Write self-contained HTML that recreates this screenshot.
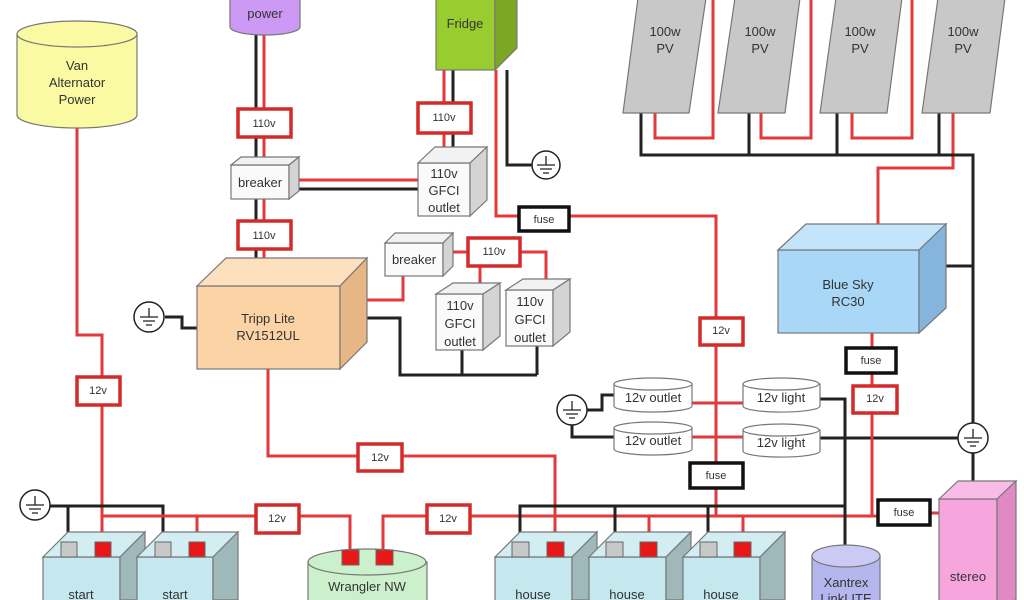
<!DOCTYPE html>
<html><head><meta charset="utf-8"><style>
html,body{margin:0;padding:0;background:#fff;width:1024px;height:600px;overflow:hidden}
svg{display:block}
text{font-family:"Liberation Sans",sans-serif;text-anchor:middle;fill:#333}
.r{stroke:#e03a3a;stroke-width:3;fill:none}
.k{stroke:#222;stroke-width:3;fill:none}
.lb{fill:#fff;stroke:#d42a2a;stroke-width:3.5}
.fb{fill:#fff;stroke:#111;stroke-width:3.5}
.o{stroke:#777;stroke-width:1.2}
</style></head><body>
<svg width="1024" height="600" viewBox="0 0 1024 600" xmlns="http://www.w3.org/2000/svg">
<!-- wires -->
<!-- shore power -->
<line class="k" x1="256" y1="35" x2="256" y2="262"/>
<line class="r" x1="264" y1="35" x2="264" y2="262"/>
<!-- breaker to gfci1 -->
<line class="r" x1="299" y1="180" x2="418" y2="180"/>
<line class="k" x1="299" y1="189" x2="418" y2="189"/>
<!-- fridge -->
<line class="r" x1="444" y1="70" x2="444" y2="150"/>
<line class="k" x1="453" y1="70" x2="453" y2="150"/>
<polyline class="r" points="496,70 496,216 666,216 716,216 716,515"/>
<polyline class="k" points="507,70 507,165 532,165"/>
<!-- van alternator -->
<polyline class="r" points="77,128 77,335 102,335 102,545"/>
<!-- tripp ground -->
<polyline class="k" points="165,317 182,317 182,328 197,328"/>
<!-- tripp to breaker2 -->
<polyline class="r" points="367,300 403,300 403,276"/>
<line class="r" x1="453" y1="252" x2="468" y2="252"/>
<polyline class="r" points="480,266 480,290"/>
<polyline class="r" points="520,252 546,252 546,282"/>
<!-- tripp black to gfci -->
<polyline class="k" points="367,318 400,318 400,375 537,375"/>
<line class="k" x1="462" y1="350" x2="462" y2="375"/>
<line class="k" x1="537" y1="346" x2="537" y2="375"/>
<!-- tripp 12v -->
<polyline class="r" points="268,369 268,456 555,456 555,545"/>
<!-- start bus -->
<polyline class="k" points="50,506 163,506 163,545"/>
<line class="k" x1="68" y1="506" x2="68" y2="545"/>
<polyline class="r" points="102,516 350,516 350,552"/>
<line class="r" x1="197" y1="516" x2="197" y2="545"/>
<polyline class="r" points="383,552 383,516 470,516 880,516"/>
<line class="r" x1="649" y1="516" x2="649" y2="545"/>
<line class="r" x1="743" y1="516" x2="743" y2="545"/>
<polyline class="k" points="520,545 520,506 845,506"/>
<line class="k" x1="615" y1="506" x2="615" y2="545"/>
<line class="k" x1="708" y1="506" x2="708" y2="545"/>
<line class="r" x1="930" y1="513" x2="940" y2="513"/>
<!-- outlets/lights -->
<line class="r" x1="692" y1="403" x2="743" y2="403"/>
<line class="r" x1="692" y1="437" x2="743" y2="437"/>
<polyline class="k" points="587,410 602,410 602,395 614,395"/>
<polyline class="k" points="572,425 572,437 614,437"/>
<polyline class="k" points="820,399 845,399 845,548"/>
<line class="k" x1="820" y1="438" x2="958" y2="438"/>
<!-- blue sky -->
<line class="r" x1="872" y1="333" x2="872" y2="516"/>
<polyline class="r" points="878,224 878,168 953,168 953,113"/>
<line class="k" x1="946" y1="266" x2="973" y2="266"/>
<!-- PV -->
<polyline class="k" points="641,113 641,155 973,155 973,423"/>
<line class="k" x1="749" y1="113" x2="749" y2="155"/>
<line class="k" x1="837" y1="113" x2="837" y2="155"/>
<line class="k" x1="939" y1="113" x2="939" y2="155"/>
<line class="k" x1="973" y1="453" x2="973" y2="482"/>
<polyline class="r" points="655,113 655,138 713,138 713,0"/>
<polyline class="r" points="761,113 761,138 811,138 811,0"/>
<polyline class="r" points="852,113 852,138 912,138 912,0"/>

<!-- PV panels -->
<g fill="#c8c8c8" class="o">
<polygon points="638,-2 706,-2 689,113 623,113"/>
<polygon points="735,-2 800,-2 785,113 718,113"/>
<polygon points="836,-2 902,-2 887,113 820,113"/>
<polygon points="938,-2 1005,-2 990,113 922,113"/>
</g>
<g font-size="13">
<text x="665" y="36">100w</text><text x="665" y="53">PV</text>
<text x="760" y="36">100w</text><text x="760" y="53">PV</text>
<text x="860" y="36">100w</text><text x="860" y="53">PV</text>
<text x="963" y="36">100w</text><text x="963" y="53">PV</text>
</g>

<!-- Van alternator cylinder -->
<g class="o" fill="#fafaa2">
<path d="M17,34 L17,115 A60,13 0 0 0 137,115 L137,34 Z"/>
<ellipse cx="77" cy="34" rx="60" ry="13"/>
</g>
<text x="77" y="70" font-size="13">Van</text>
<text x="77" y="87" font-size="13">Alternator</text>
<text x="77" y="104" font-size="13">Power</text>

<!-- shore power -->
<path d="M230,-5 L230,27 A35,8 0 0 0 300,27 L300,-5 Z" fill="#cc99f5" class="o"/>
<text x="265" y="-1" font-size="13" fill="#333">shore</text>
<text x="265" y="18" font-size="13">power</text>

<!-- Fridge -->
<g class="o">
<rect x="436" y="-2" width="59" height="72" fill="#99cc2e"/>
<polygon points="495,-2 517,-20 517,48 495,70" fill="#7aa823"/>
</g>
<text x="465" y="28" font-size="13">Fridge</text>

<!-- labels 110v -->
<g font-size="11">
<rect class="lb" x="238" y="109" width="53" height="28"/><text x="264" y="127">110v</text>
<rect class="lb" x="238" y="221" width="53" height="28"/><text x="264" y="239">110v</text>
<rect class="lb" x="418" y="103" width="53" height="30"/><text x="444" y="121">110v</text>
<rect class="lb" x="468" y="238" width="52" height="28"/><text x="494" y="255">110v</text>
<rect class="lb" x="77" y="377" width="43" height="28"/><text x="98" y="394">12v</text>
<rect class="lb" x="358" y="444" width="44" height="27"/><text x="380" y="461">12v</text>
<rect class="lb" x="256" y="505" width="43" height="28"/><text x="277" y="522">12v</text>
<rect class="lb" x="427" y="505" width="43" height="28"/><text x="448" y="522">12v</text>
<rect class="lb" x="700" y="318" width="43" height="27"/><text x="721" y="334">12v</text>
<rect class="lb" x="853" y="386" width="44" height="27"/><text x="875" y="402">12v</text>
<rect class="fb" x="519" y="207" width="50" height="24"/><text x="544" y="223">fuse</text>
<rect class="fb" x="846" y="348" width="50" height="25"/><text x="871" y="364">fuse</text>
<rect class="fb" x="690" y="463" width="53" height="25"/><text x="716" y="479">fuse</text>
<rect class="fb" x="878" y="500" width="52" height="25"/><text x="904" y="516">fuse</text>
</g>

<!-- breaker boxes -->
<g class="o">
<rect x="231" y="165" width="58" height="34" fill="#fafafa"/>
<polygon points="231,165 241,157 299,157 289,165" fill="#f2f2f2"/>
<polygon points="289,165 299,157 299,191 289,199" fill="#d4d4d4"/>
<rect x="385" y="243" width="58" height="33" fill="#fafafa"/>
<polygon points="385,243 395,233 453,233 443,243" fill="#f2f2f2"/>
<polygon points="443,243 453,233 453,266 443,276" fill="#d4d4d4"/>
</g>
<text x="260" y="187" font-size="13">breaker</text>
<text x="414" y="264" font-size="13">breaker</text>

<!-- GFCI outlets -->
<g class="o">
<rect x="418" y="163" width="52" height="53" fill="#fafafa"/>
<polygon points="418,163 435,147 487,147 470,163" fill="#f2f2f2"/>
<polygon points="470,163 487,147 487,200 470,216" fill="#d4d4d4"/>
<rect x="436" y="294" width="47" height="56" fill="#fafafa"/>
<polygon points="436,294 453,283 500,283 483,294" fill="#f2f2f2"/>
<polygon points="483,294 500,283 500,336 483,350" fill="#d4d4d4"/>
<rect x="506" y="290" width="47" height="56" fill="#fafafa"/>
<polygon points="506,290 523,279 570,279 553,290" fill="#f2f2f2"/>
<polygon points="553,290 570,279 570,332 553,346" fill="#d4d4d4"/>
</g>
<g font-size="13">
<text x="444" y="178">110v</text><text x="444" y="195">GFCI</text><text x="444" y="212">outlet</text>
<text x="460" y="310">110v</text><text x="460" y="328">GFCI</text><text x="460" y="346">outlet</text>
<text x="530" y="306">110v</text><text x="530" y="324">GFCI</text><text x="530" y="342">outlet</text>
</g>

<!-- Tripp Lite -->
<g class="o">
<rect x="197" y="286" width="143" height="83" fill="#fcd3a4"/>
<polygon points="197,286 226,258 367,258 340,286" fill="#fde0bd"/>
<polygon points="340,286 367,258 367,342 340,369" fill="#e6b684"/>
</g>
<text x="268" y="323" font-size="13">Tripp Lite</text>
<text x="268" y="340" font-size="13">RV1512UL</text>

<!-- Blue sky -->
<g class="o">
<rect x="778" y="250" width="141" height="83" fill="#a9d7f7"/>
<polygon points="778,250 806,224 946,224 919,250" fill="#c4e4fb"/>
<polygon points="919,250 946,224 946,308 919,333" fill="#85b4dd"/>
</g>
<text x="848" y="289" font-size="13">Blue Sky</text>
<text x="848" y="306" font-size="13">RC30</text>

<!-- grounds -->
<g fill="#fff" stroke="#222" stroke-width="1.5">
<circle cx="149" cy="317" r="15"/><circle cx="546" cy="165" r="14"/>
<circle cx="35" cy="505" r="15"/><circle cx="572" cy="410" r="15"/><circle cx="973" cy="438" r="15"/>
</g>
<g stroke="#222" stroke-width="1.3">
<path d="M149,308v9M140,317h18M143,321h12M146,325h6"/>
<path d="M546,156v9M537,165h18M540,169h12M543,173h6"/>
<path d="M35,496v9M26,505h18M29,509h12M32,513h6"/>
<path d="M572,401v9M563,410h18M566,414h12M569,418h6"/>
<path d="M973,429v9M964,438h18M967,442h12M970,446h6"/>
</g>

<!-- 12v outlets / lights -->
<g class="o" fill="#fff">
<path d="M614,384 v22 a39,6 0 0 0 78,0 v-22 Z"/><ellipse cx="653" cy="384" rx="39" ry="6"/>
<path d="M614,428 v21 a39,6 0 0 0 78,0 v-21 Z"/><ellipse cx="653" cy="428" rx="39" ry="6"/>
<path d="M743,384 v22 a38,6 0 0 0 77,0 v-22 Z"/><ellipse cx="781" cy="384" rx="38" ry="6"/>
<path d="M743,430 v21 a38,6 0 0 0 77,0 v-21 Z"/><ellipse cx="781" cy="430" rx="38" ry="6"/>
</g>
<g font-size="13">
<text x="653" y="402">12v outlet</text><text x="653" y="445">12v outlet</text>
<text x="781" y="402">12v light</text><text x="781" y="447">12v light</text>
</g>

<!-- batteries -->
<g class="o">
<g>
<rect x="43" y="557" width="77" height="50" fill="#c5e8ee"/>
<polygon points="43,557 68,532 145,532 120,557" fill="#d3eef2"/>
<polygon points="120,557 145,532 145,600 120,600" fill="#9fb8ba"/>
</g>
<g>
<rect x="137" y="557" width="76" height="50" fill="#c5e8ee"/>
<polygon points="137,557 162,532 238,532 213,557" fill="#d3eef2"/>
<polygon points="213,557 238,532 238,600 213,600" fill="#9fb8ba"/>
</g>
<g>
<rect x="495" y="557" width="77" height="50" fill="#c5e8ee"/>
<polygon points="495,557 520,532 597,532 572,557" fill="#d3eef2"/>
<polygon points="572,557 597,532 597,600 572,600" fill="#9fb8ba"/>
</g>
<g>
<rect x="589" y="557" width="77" height="50" fill="#c5e8ee"/>
<polygon points="589,557 614,532 691,532 666,557" fill="#d3eef2"/>
<polygon points="666,557 691,532 691,600 666,600" fill="#9fb8ba"/>
</g>
<g>
<rect x="683" y="557" width="77" height="50" fill="#c5e8ee"/>
<polygon points="683,557 708,532 785,532 760,557" fill="#d3eef2"/>
<polygon points="760,557 785,532 785,600 760,600" fill="#9fb8ba"/>
</g>
</g>
<g stroke="#666" stroke-width="1">
<rect x="61" y="542" width="16" height="15" fill="#c8c8c8"/><rect x="95" y="542" width="16" height="15" fill="#e81818"/>
<rect x="155" y="542" width="16" height="15" fill="#c8c8c8"/><rect x="189" y="542" width="16" height="15" fill="#e81818"/>
<rect x="512" y="542" width="17" height="15" fill="#c8c8c8"/><rect x="547" y="542" width="17" height="15" fill="#e81818"/>
<rect x="606" y="542" width="17" height="15" fill="#c8c8c8"/><rect x="640" y="542" width="17" height="15" fill="#e81818"/>
<rect x="700" y="542" width="17" height="15" fill="#c8c8c8"/><rect x="734" y="542" width="17" height="15" fill="#e81818"/>
</g>
<g font-size="13">
<text x="81" y="599">start</text><text x="175" y="599">start</text>
<text x="533" y="599">house</text><text x="627" y="599">house</text><text x="721" y="599">house</text>
</g>

<!-- Wrangler -->
<g class="o" fill="#ccf0cc">
<rect x="308" y="562" width="119" height="45"/>
<ellipse cx="367" cy="562" rx="59" ry="13"/>
</g>
<g stroke="#666" stroke-width="1" fill="#e81818">
<rect x="342" y="550" width="17" height="15"/><rect x="376" y="550" width="17" height="15"/>
</g>
<text x="367" y="591" font-size="13">Wrangler NW</text>

<!-- Xantrex -->
<g class="o" fill="#b6b6ee">
<rect x="812" y="556" width="68" height="50"/>
<ellipse cx="846" cy="556" rx="34" ry="11" fill="#cacaf5"/>
</g>
<text x="846" y="587" font-size="13" fill="#335">Xantrex</text>
<text x="846" y="603" font-size="13" fill="#335">LinkLITE</text>

<!-- stereo -->
<g class="o">
<rect x="939" y="499" width="58" height="105" fill="#f7a6dd"/>
<polygon points="939,499 958,481 1016,481 997,499" fill="#f9bce6"/>
<polygon points="997,499 1016,481 1016,600 997,604" fill="#e08ac4"/>
</g>
<text x="968" y="581" font-size="13" fill="#555">stereo</text>
</svg>
</body></html>
